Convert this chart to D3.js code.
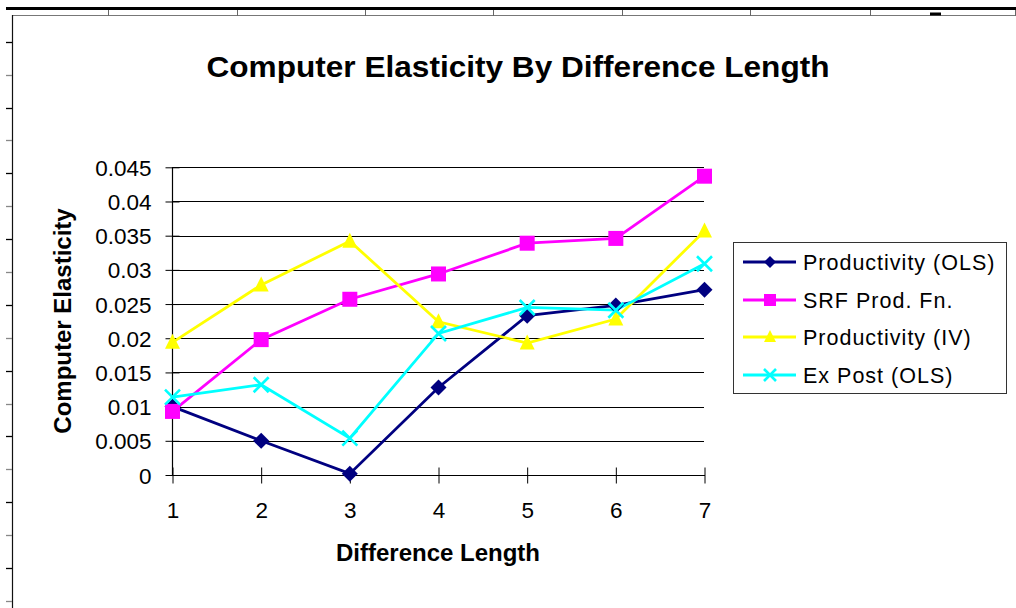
<!DOCTYPE html>
<html>
<head>
<meta charset="utf-8">
<script src="https://cdn.jsdelivr.net/npm/d3@7"></script>
<style>
  html, body { margin: 0; padding: 0; background: #fff; }
  svg { display: block; font-family: "Liberation Sans", Arial, sans-serif; }
</style>
</head>
<body>
<svg id="chart" width="1016" height="608"></svg>
<script>
// ---- data ----
const categories = [1, 2, 3, 4, 5, 6, 7];
const seriesNames = ["Productivity (OLS)", "SRF Prod. Fn.", "Productivity (IV)", "Ex Post (OLS)"];
const productivityOLS = [0.0100, 0.0050, 0.0002, 0.0128, 0.0233, 0.0248, 0.0271];
const srfProdFn       = [0.0093, 0.0198, 0.0257, 0.0294, 0.0339, 0.0346, 0.0437];
const productivityIV  = [0.0194, 0.0278, 0.0342, 0.0224, 0.0193, 0.0228, 0.0357];
const exPostOLS       = [0.0114, 0.0132, 0.0054, 0.0207, 0.0245, 0.0241, 0.0309];
const yTicks = [0, 0.005, 0.01, 0.015, 0.02, 0.025, 0.03, 0.035, 0.04, 0.045];
const yTickLabels = ["0", "0.005", "0.01", "0.015", "0.02", "0.025", "0.03", "0.035", "0.04", "0.045"];
const titleText = "Computer Elasticity By Difference Length";
const xTitleText = "Difference Length";
const yTitleText = "Computer Elasticity";

const series = [
  { name: seriesNames[0], values: productivityOLS, color: "#000080", marker: "diamond" },
  { name: seriesNames[1], values: srfProdFn,       color: "#FF00FF", marker: "square" },
  { name: seriesNames[2], values: productivityIV,  color: "#FFFF00", marker: "triangle" },
  { name: seriesNames[3], values: exPostOLS,       color: "#00FFFF", marker: "x" }
];

const svg = d3.select("#chart");

// ---- spreadsheet-like frame decorations ----
svg.append("rect").attr("x", 6).attr("y", 7).attr("width", 1010).attr("height", 3).attr("fill", "#000");
svg.append("line").attr("x1", 12).attr("x2", 1015).attr("y1", 15.5).attr("y2", 15.5).attr("stroke", "#777").attr("stroke-width", 1);
[108.5, 237.5, 365.5, 493.5, 622.5, 750.5, 870.5, 1015.5].forEach(x => {
  svg.append("line").attr("x1", x).attr("x2", x).attr("y1", 10).attr("y2", 16).attr("stroke", "#666").attr("stroke-width", 1);
});
svg.append("rect").attr("x", 930).attr("y", 12.5).attr("width", 11).attr("height", 3).attr("fill", "#000");
svg.append("line").attr("x1", 12.5).attr("x2", 12.5).attr("y1", 15).attr("y2", 608).attr("stroke", "#111").attr("stroke-width", 1.2);
for (let k = 0; k < 18; k++) {
  const y = Math.round(41.7 + 32.9 * k) + 0.5;
  svg.append("line").attr("x1", 6).attr("x2", 12).attr("y1", y).attr("y2", y)
    .attr("stroke", k % 2 === 0 ? "#000" : "#888").attr("stroke-width", 1.3);
}

// ---- scales ----
const x = d3.scalePoint().domain(categories).range([172.5, 704.5]);
const y = d3.scaleLinear().domain([0, 0.045]).range([475, 167.3]);

// ---- gridlines ----
const grid = svg.append("g");
grid.selectAll("line").data(yTicks.slice(1)).join("line")
  .attr("x1", 172).attr("x2", 704)
  .attr("y1", d => Math.round(y(d)) + 0.5).attr("y2", d => Math.round(y(d)) + 0.5)
  .attr("stroke", "#000").attr("stroke-width", 1);

// ---- y axis ----
const yAxis = svg.append("g").attr("transform", "translate(172.5,0)")
  .call(d3.axisLeft(y).tickValues(yTicks).tickFormat((d, i) => yTickLabels[i]).tickSize(7).tickPadding(14));
yAxis.select(".domain").attr("stroke", "#000").attr("stroke-width", 1.2).attr("d", `M0,${y(0)}V${y(0.045)}`);
yAxis.selectAll(".tick line").attr("x1", 7).attr("x2", -7).attr("stroke", "#000");
yAxis.selectAll(".tick text").attr("font-size", 22.5).attr("fill", "#000")
  .attr("font-family", "Liberation Sans, Arial, sans-serif").attr("dy", "0.36em");

// ---- x axis ----
const xAxis = svg.append("g").attr("transform", `translate(0,${y(0) + 0.5})`)
  .call(d3.axisBottom(x).tickSize(8).tickPadding(19));
xAxis.select(".domain").attr("stroke", "#000").attr("stroke-width", 1).attr("d", `M172,0H705`);
xAxis.selectAll(".tick line").attr("y1", -8).attr("y2", 8).attr("stroke", "#000");
xAxis.selectAll(".tick text").attr("font-size", 22.5).attr("fill", "#000")
  .attr("font-family", "Liberation Sans, Arial, sans-serif");

// ---- lines ----
const line = d3.line().x((d, i) => x(categories[i])).y(d => y(d));
const plot = svg.append("g");
series.forEach(s => {
  plot.append("path").attr("d", line(s.values)).attr("fill", "none")
    .attr("stroke", s.color).attr("stroke-width", 2.8).attr("stroke-linejoin", "miter");
});

function drawMarker(g, type, cx, cy, size, color) {
  const h = size / 2;
  if (type === "diamond") {
    g.append("path").attr("d", `M${cx},${cy - h}L${cx + h},${cy}L${cx},${cy + h}L${cx - h},${cy}Z`).attr("fill", color);
  } else if (type === "square") {
    g.append("rect").attr("x", cx - h).attr("y", cy - h).attr("width", size).attr("height", size).attr("fill", color);
  } else if (type === "triangle") {
    g.append("path").attr("d", `M${cx},${cy - h - 1}L${cx + h},${cy + h - 1}L${cx - h},${cy + h - 1}Z`).attr("fill", color);
  } else if (type === "x") {
    g.append("path").attr("d", `M${cx - h},${cy - h}L${cx + h},${cy + h}M${cx - h},${cy + h}L${cx + h},${cy - h}`)
      .attr("stroke", color).attr("stroke-width", 2.6).attr("fill", "none");
  }
}
series.forEach(s => {
  const g = plot.append("g");
  s.values.forEach((v, i) => drawMarker(g, s.marker, x(categories[i]), y(v), s.marker === "diamond" ? 16 : 15, s.color));
});

// ---- titles ----
svg.append("text").attr("x", 518).attr("y", 77).attr("text-anchor", "middle")
  .attr("font-size", 30).attr("font-weight", "bold").attr("textLength", 623).attr("lengthAdjust", "spacingAndGlyphs")
  .text(titleText);
svg.append("text").attr("x", 438).attr("y", 561).attr("text-anchor", "middle")
  .attr("font-size", 24).attr("font-weight", "bold").text(xTitleText);
svg.append("text").attr("transform", "translate(71,321) rotate(-90)").attr("text-anchor", "middle")
  .attr("font-size", 24).attr("font-weight", "bold").text(yTitleText);

// ---- legend ----
const legend = svg.append("g");
legend.append("rect").attr("x", 733.5).attr("y", 242.5).attr("width", 273).attr("height", 151)
  .attr("fill", "#fff").attr("stroke", "#333").attr("stroke-width", 1);
const legendY = [262, 300, 337, 375];
series.forEach((s, i) => {
  const ly = legendY[i];
  legend.append("line").attr("x1", 743).attr("x2", 796).attr("y1", ly).attr("y2", ly)
    .attr("stroke", s.color).attr("stroke-width", 2.8);
  drawMarker(legend, s.marker, 770, ly, 12, s.color);
  legend.append("text").attr("x", 803).attr("y", ly).attr("dy", "0.36em")
    .attr("font-size", 21.5).attr("letter-spacing", 1).text(s.name);
});
</script>
</body>
</html>
